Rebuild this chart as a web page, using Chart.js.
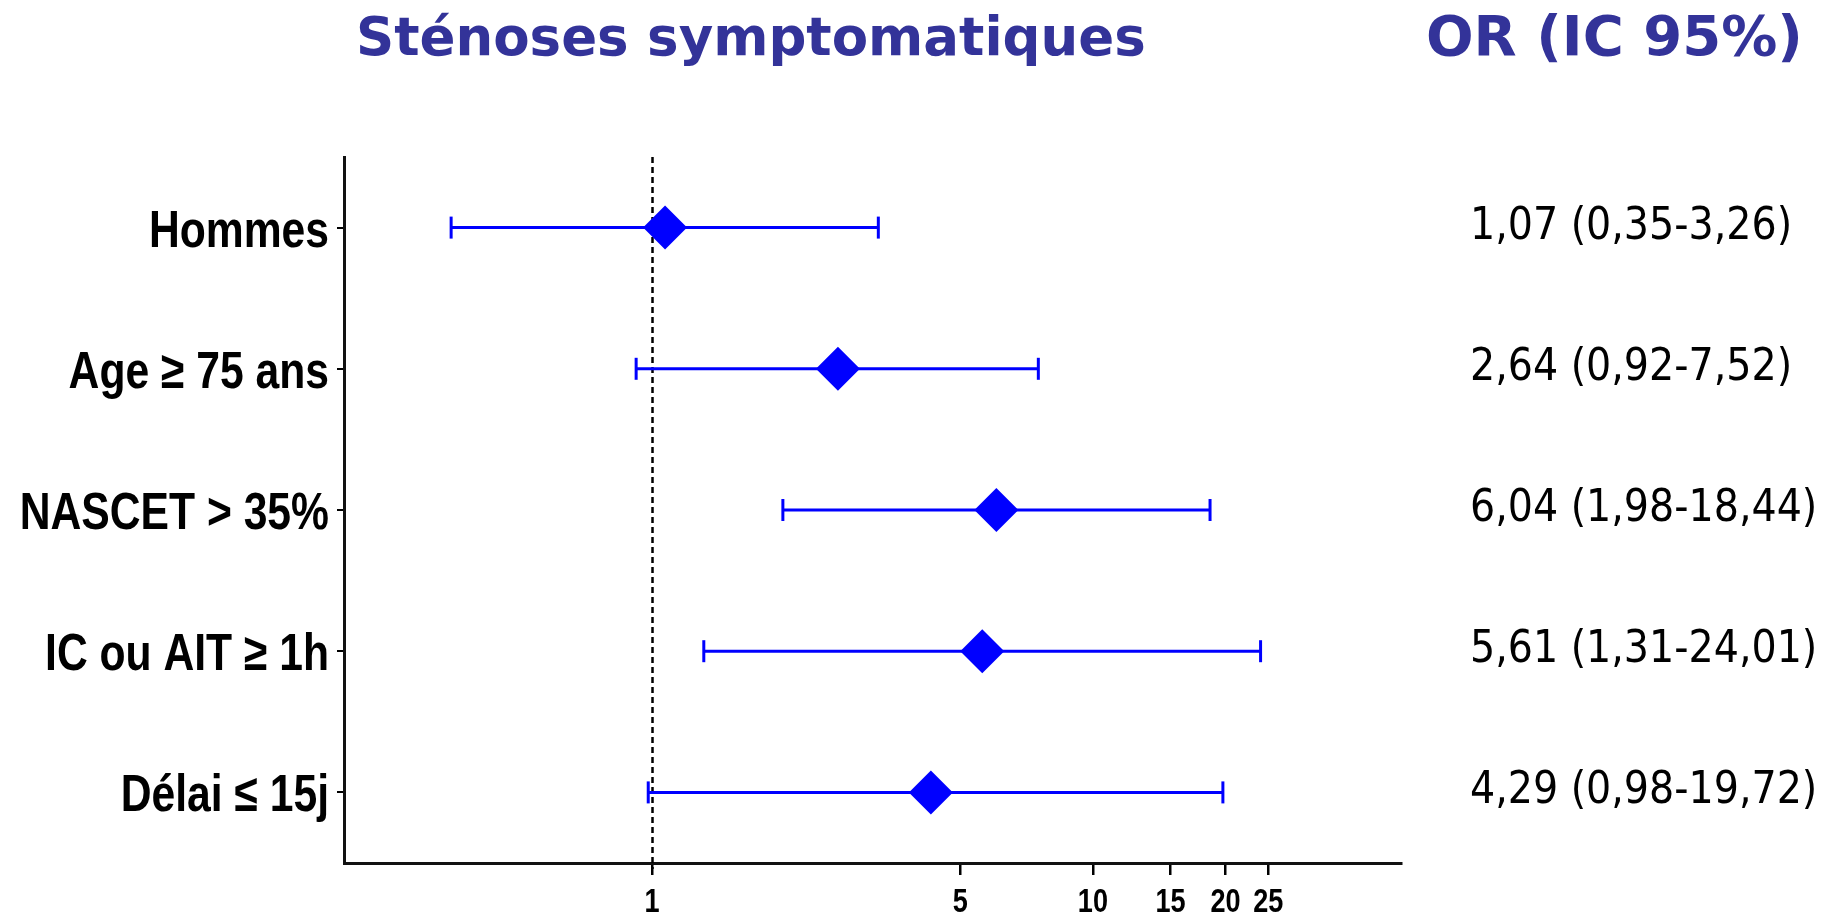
<!DOCTYPE html>
<html lang="fr">
<head>
<meta charset="utf-8">
<title>Sténoses symptomatiques – OR (IC 95%)</title>
<script src="https://cdn.jsdelivr.net/npm/chart.js@4.4.1/dist/chart.umd.min.js"></script>
<style>
  html, body { margin: 0; padding: 0; background: #ffffff; }
  #wrap { position: relative; width: 1833px; height: 915px; }
</style>
</head>
<body>
<div id="wrap"><canvas id="forest"></canvas></div>
<script>
// Facteurs étudiés (de haut en bas)
const categories = ['Hommes', 'Age \u2265 75 ans', 'NASCET > 35%', 'IC ou AIT \u2265 1h', 'D\u00e9lai \u2264 15j'];
// Odds ratios et bornes de l'intervalle de confiance à 95 %
const oddsRatios = [1.07, 2.64, 6.04, 5.61, 4.29];
const ciLow      = [0.35, 0.92, 1.98, 1.31, 0.98];
const ciHigh     = [3.26, 7.52, 18.44, 24.01, 19.72];
// Graduations de l'axe des OR (échelle log)
const xTickValues = [1, 5, 10, 15, 20, 25];

const BLUE = '#0000ff';
const TITLE_BLUE = '#333399';
const AXIS_FONT = "'Liberation Sans', Arial, sans-serif";
const NARROW_FACTOR = 0.82;   // étiquettes d'axes en style « narrow »

const fmt = v => v.toFixed(2).replace('.', ',');

// Segments d'IC : un jeu de données par facteur, avec des barres de fin verticales
const ciDatasets = categories.map((cat, i) => ({
  type: 'line',
  data: [{ x: ciLow[i], y: cat }, { x: ciHigh[i], y: cat }],
  borderColor: BLUE,
  borderWidth: 3,
  pointStyle: 'line',
  rotation: 90,
  pointRadius: 11,
  pointBorderColor: BLUE,
  pointBorderWidth: 3,
  fill: false,
  order: 2
}));

// Texte condensé horizontalement, ancré en (x, y)
function narrowText(ctx, txt, x, y, align) {
  ctx.save();
  ctx.translate(x, y);
  ctx.scale(NARROW_FACTOR, 1);
  ctx.textAlign = align;
  ctx.fillText(txt, 0, 0);
  ctx.restore();
}

// Ligne de référence OR = 1, étiquettes d'axes, titres et colonne des valeurs
const forestDecor = {
  id: 'forestDecor',
  beforeDatasetsDraw(chart) {
    const { ctx, chartArea, scales } = chart;
    const x1 = Math.round(scales.x.getPixelForValue(1)) + 0.5;
    ctx.save();
    ctx.strokeStyle = '#000';
    ctx.lineWidth = 2.5;
    ctx.setLineDash([6, 4]);
    ctx.beginPath();
    ctx.moveTo(x1, chartArea.top);
    ctx.lineTo(x1, chartArea.bottom + 6);
    ctx.stroke();
    ctx.restore();
  },
  afterDraw(chart) {
    const { ctx, scales, chartArea } = chart;
    ctx.save();
    // Étiquettes de l'axe des facteurs
    ctx.fillStyle = '#000';
    ctx.textBaseline = 'alphabetic';
    ctx.font = 'bold 52px ' + AXIS_FONT;
    scales.y.ticks.forEach((t, i) => {
      const y = scales.y.getPixelForTick(i);
      narrowText(ctx, categories[t.value], chartArea.left - 15, y + 19, 'right');
    });
    // Étiquettes de l'axe des OR
    ctx.font = 'bold 33px ' + AXIS_FONT;
    scales.x.ticks.forEach(t => {
      const x = scales.x.getPixelForValue(t.value);
      narrowText(ctx, String(t.value), x, chartArea.bottom + 49, 'center');
    });

    // Titres
    ctx.fillStyle = TITLE_BLUE;
    ctx.textAlign = 'left';
    ctx.font = "bold 53px 'DejaVu Sans', Verdana, sans-serif";
    ctx.fillText('Sténoses symptomatiques', 356, 55);
    ctx.font = "bold 56px 'DejaVu Sans', Verdana, sans-serif";
    ctx.fillText('OR (IC 95%)', 1426, 55);

    // Colonne OR (IC 95 %)
    ctx.fillStyle = '#000';
    ctx.font = "44px 'DejaVu Sans Condensed', 'DejaVu Sans', sans-serif";
    categories.forEach((cat, i) => {
      const y = scales.y.getPixelForValue(i);
      const txt = fmt(oddsRatios[i]) + ' (' + fmt(ciLow[i]) + '-' + fmt(ciHigh[i]) + ')';
      ctx.fillText(txt, 1470, y + 11);
    });
    ctx.restore();
  }
};

new Chart(document.getElementById('forest'), {
  type: 'scatter',
  data: {
    datasets: [
      {
        type: 'scatter',
        data: categories.map((cat, i) => ({ x: oddsRatios[i], y: cat })),
        pointStyle: 'rectRot',
        pointRadius: 22,
        backgroundColor: BLUE,
        borderColor: BLUE,
        borderWidth: 0,
        order: 1
      },
      ...ciDatasets
    ]
  },
  options: {
    responsive: true,
    maintainAspectRatio: false,
    animation: false,
    events: [],
    layout: { padding: { left: 0, right: 432, top: 157, bottom: 0 } },
    plugins: { legend: { display: false }, tooltip: { enabled: false }, title: { display: false } },
    scales: {
      x: {
        type: 'logarithmic',
        min: 0.2,
        max: 50,
        afterBuildTicks: scale => { scale.ticks = xTickValues.map(v => ({ value: v })); },
        afterFit: scale => { scale.height = 52; },
        grid: { display: true, drawOnChartArea: false, drawTicks: true, tickLength: 12, color: '#000', lineWidth: 2.5 },
        border: { display: true, color: '#111', width: 3 },
        ticks: { display: false, autoSkip: false }
      },
      y: {
        type: 'category',
        labels: categories,
        offset: true,
        afterFit: scale => { scale.width = 344; },
        grid: { display: true, drawOnChartArea: false, drawTicks: true, tickLength: 7, color: '#000', lineWidth: 2, offset: false },
        border: { display: true, color: '#111', width: 3 },
        ticks: { display: false }
      }
    }
  },
  plugins: [forestDecor]
});
</script>
</body>
</html>
